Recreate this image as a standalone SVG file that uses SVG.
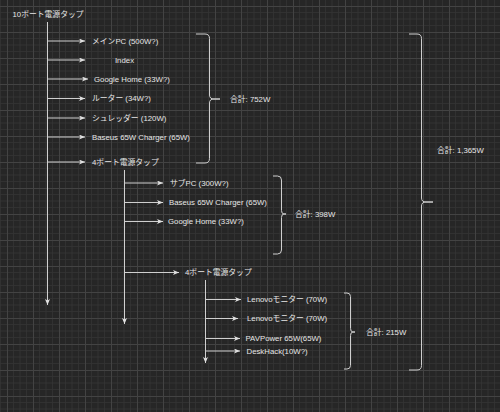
<svg xmlns="http://www.w3.org/2000/svg" width="500" height="412" viewBox="0 0 500 412">
<style>
text{font-family:"Liberation Sans","Noto Sans CJK JP",sans-serif;font-size:7.8px;fill:#e6e6e6;dominant-baseline:central}
.c{stroke:#d0d0d0;stroke-width:1;fill:none}
.a{marker-end:url(#arr)}
.br{stroke:#cfcfcf;stroke-width:1;fill:none}
</style>
<defs>
<pattern id="grid" x="7" y="6" width="26" height="26" patternUnits="userSpaceOnUse">
<path d="M6.5,0V26M13,0V26M19.5,0V26M0,6.5H26M0,13H26M0,19.5H26" stroke="#333333" stroke-width="0.8" fill="none"/>
<path d="M0.5,0V26M0,0.5H26" stroke="#434343" stroke-width="1" fill="none"/>
</pattern>
<marker id="arr" viewBox="0 0 6 5" refX="6" refY="2.5" markerWidth="6" markerHeight="5" markerUnits="userSpaceOnUse" orient="auto">
<path d="M0,0L6,2.5L0,5L1.5,2.5z" fill="#e0e0e0"/>
</marker>
</defs>
<rect width="500" height="412" fill="#262626"/>
<rect width="500" height="412" fill="url(#grid)"/>

<g id="connectors">
<line class="c a" x1="47.5" y1="22" x2="47.5" y2="305"/>
<line class="c a" x1="47.5" y1="41" x2="85" y2="41"/>
<line class="c a" x1="47.5" y1="60" x2="85" y2="60"/>
<line class="c a" x1="47.5" y1="79" x2="88" y2="79"/>
<line class="c a" x1="47.5" y1="98.5" x2="85" y2="98.5"/>
<line class="c a" x1="47.5" y1="118" x2="85" y2="118"/>
<line class="c a" x1="47.5" y1="137" x2="85" y2="137"/>
<line class="c a" x1="47.5" y1="162" x2="85" y2="162"/>
<line class="c a" x1="124.5" y1="170" x2="124.5" y2="324"/>
<line class="c a" x1="124.5" y1="183" x2="163" y2="183"/>
<line class="c a" x1="124.5" y1="202.5" x2="163" y2="202.5"/>
<line class="c a" x1="124.5" y1="221.5" x2="163" y2="221.5"/>
<line class="c a" x1="124.5" y1="272.5" x2="179" y2="272.5"/>
<line class="c a" x1="205.5" y1="280" x2="205.5" y2="363"/>
<line class="c a" x1="205.5" y1="299.5" x2="241" y2="299.5"/>
<line class="c a" x1="205.5" y1="318.5" x2="238" y2="318.5"/>
<line class="c a" x1="205.5" y1="338.5" x2="240" y2="338.5"/>
<line class="c a" x1="205.5" y1="351" x2="240" y2="351"/>
</g>

<g id="brace1"><path class="br" d="M196,34H205Q209.5,34 209.5,38.5V95Q209.5,99 214,99H220H214Q209.5,99 209.5,103V158.5Q209.5,163 205,163H196"/></g>
<g id="brace2"><path class="br" d="M273,176H277.5Q281.5,176 281.5,180V210.5Q281.5,214 284,214H286H284Q281.5,214 281.5,217.5V250Q281.5,254 277.5,254H273"/></g>
<g id="brace3"><path class="br" d="M344,293H347Q350.5,293 350.5,296.5V328.5Q350.5,332 353,332H355H353Q350.5,332 350.5,335.5V365.5Q350.5,369 347,369H344"/></g>
<g id="brace4"><path class="br" d="M409,34H417Q421.5,34 421.5,38.5V198Q421.5,202 426,202H433H426Q421.5,202 421.5,206V365.5Q421.5,370 417,370H409"/></g>

<g id="n-root"><text x="12.5" y="14.5">10ポート電源タップ</text></g>
<g id="n-mainpc"><text x="92" y="41">メインPC (500W?)</text></g>
<g id="n-index"><text x="124.5" y="60" text-anchor="middle">Index</text></g>
<g id="n-ghome1"><text x="94" y="79">Google Home (33W?)</text></g>
<g id="n-router"><text x="92" y="98.5">ルーター (34W?)</text></g>
<g id="n-shredder"><text x="92" y="118">シュレッダー (120W)</text></g>
<g id="n-baseus1"><text x="92" y="137">Baseus 65W Charger (65W)</text></g>
<g id="n-tap4a"><text x="92" y="162">4ポート電源タップ</text></g>
<g id="n-subpc"><text x="170" y="183">サブPC (300W?)</text></g>
<g id="n-baseus2"><text x="169" y="202.5">Baseus 65W Charger (65W)</text></g>
<g id="n-ghome2"><text x="168" y="221.5">Google Home (33W?)</text></g>
<g id="n-tap4b"><text x="185" y="272.5">4ポート電源タップ</text></g>
<g id="n-lenovo1"><text x="247" y="299.5">Lenovoモニター (70W)</text></g>
<g id="n-lenovo2"><text x="247" y="318.5">Lenovoモニター (70W)</text></g>
<g id="n-pav"><text x="245.5" y="338.5">PAVPower 65W(65W)</text></g>
<g id="n-deskhack"><text x="246.5" y="351">DeskHack(10W?)</text></g>
<g id="sum1"><text x="230" y="99">合計: 752W</text></g>
<g id="sum2"><text x="295" y="214">合計: 398W</text></g>
<g id="sum3"><text x="366" y="332">合計: 215W</text></g>
<g id="sum4"><text x="437" y="150">合計: 1,365W</text></g>
</svg>
